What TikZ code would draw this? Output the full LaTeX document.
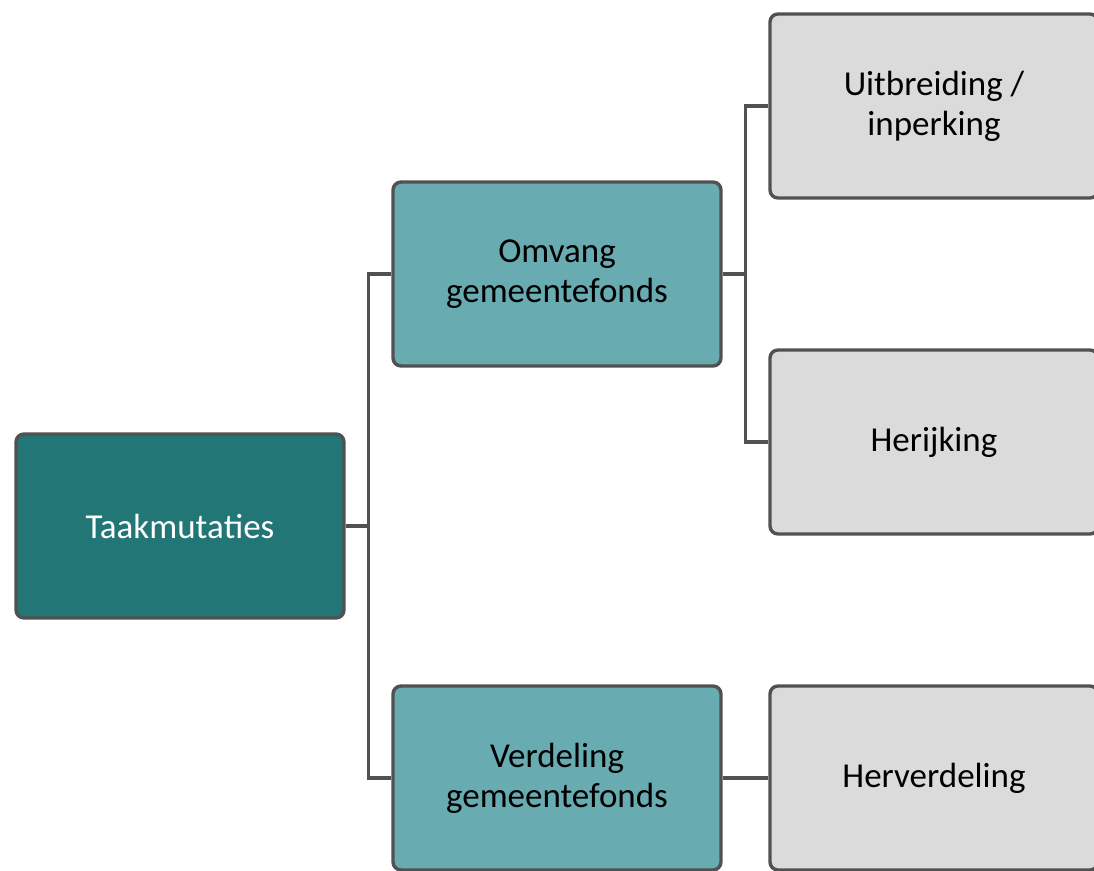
\documentclass[tikz,border=0pt]{standalone}
\usepackage{fontspec}
\setmainfont{Carlito}
\usetikzlibrary{positioning}

\definecolor{darkteal}{HTML}{227676}
\definecolor{lightteal}{HTML}{68ABB1}
\definecolor{lightgrey}{HTML}{DBDBDB}
\definecolor{edgegrey}{HTML}{515151}

\begin{document}
\begin{tikzpicture}[x=0.5pt,y=-0.5pt,
    box/.style={draw=edgegrey, line width=1.7pt, rounded corners=4pt,
        minimum width=164pt, minimum height=92pt, align=center,
        font=\fontsize{17.5}{20}\selectfont},
    root/.style={box, fill=darkteal, text=white},
    mid/.style={box, fill=lightteal, text=black},
    leaf/.style={box, fill=lightgrey, text=black},
    link/.style={edgegrey, line width=1.7pt}]
\useasboundingbox (0,0) rectangle (1094,871);

% kern keeps t and i apart (no ligature)
\node[root] (taak) at (180,526) {Taakmuta\kern0pt ties};

\node[mid] (omvang) at (557,274) {Omvang\\gemeentefonds};
\node[mid] (verdeling) at (557,778) {Verdeling\\gemeentefonds};

\node[leaf] (uitbreiding) at (934,106) {Uitbreiding /\\inperking};
\node[leaf] (herijking) at (934,442) {Herijking};
\node[leaf] (herverdeling) at (934,778) {Herverdeling};

\draw[link] (taak.east) -- ++(23,0) |- (omvang.west);
\draw[link] (taak.east) -- ++(23,0) |- (verdeling.west);

\draw[link] (omvang.east) -- ++(23,0) |- (uitbreiding.west);
\draw[link] (omvang.east) -- ++(23,0) |- (herijking.west);

\draw[link] (verdeling.east) -- (herverdeling.west);
\end{tikzpicture}
\end{document}
